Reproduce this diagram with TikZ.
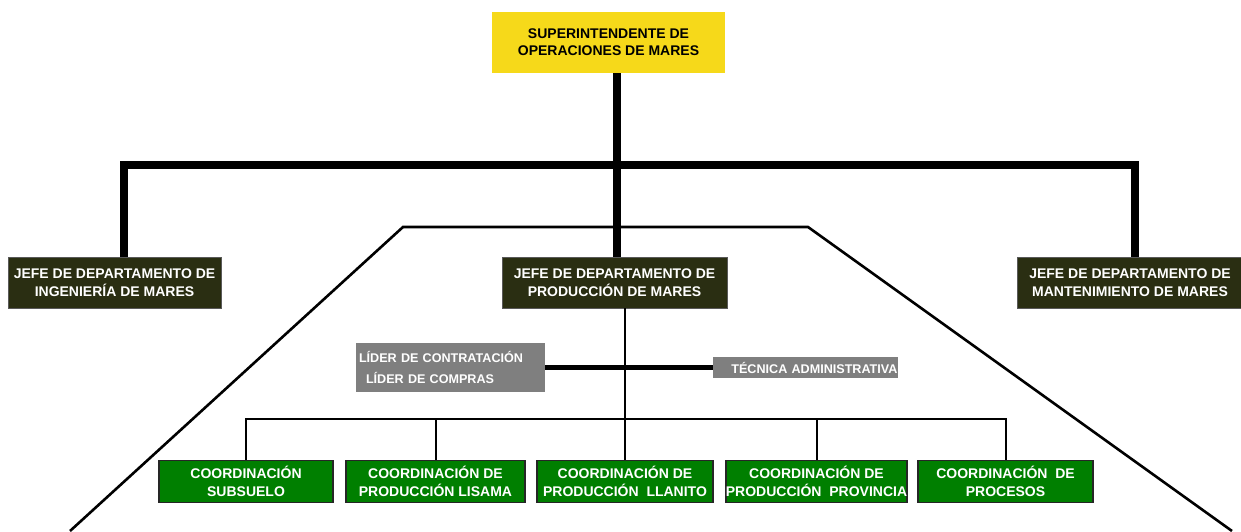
\documentclass[tikz,border=0pt]{standalone}
\usepackage{fontspec}
\setmainfont{Liberation Sans}
\begin{document}
\begin{tikzpicture}[x=1pt,y=-1pt,
  base/.style={font=\bfseries\fontsize{14}{17}\selectfont, align=center, inner sep=0pt},
  topbox/.style={base, fill=supyellow, minimum height=61pt},
  deptbox/.style={base, text=white, fill=deptolive, draw=gray!70!black, line width=0.6pt,
    minimum height=51pt, font=\bfseries\fontsize{14}{18}\selectfont},
  staffbox/.style={base, text=white, fill=staffgray, font=\bfseries\fontsize{12.6}{21}\selectfont},
  coordbox/.style={base, text=white, fill=coordgreen, draw=black!85, line width=1.6pt,
    minimum height=42pt, font=\bfseries\fontsize{14}{18}\selectfont},
  bus/.style={line width=7.5pt},
  thinlink/.style={line width=2pt},
  staffline/.style={line width=5.5pt},
  scope/.style={line width=2.6pt, line join=miter}
]
\definecolor{supyellow}{HTML}{F6D91A}
\definecolor{deptolive}{HTML}{2A2E12}
\definecolor{staffgray}{HTML}{7F7F7F}
\definecolor{coordgreen}{HTML}{007F00}

\useasboundingbox (0,0) rectangle (1241,531);

% area outline behind the production department
\draw[scope] (70,531) -- (403,227) -- (808,227) -- (1232,531);

% boxes
\node[topbox, minimum width=233pt] (sup) at (608.5,42.5) {SUPERINTENDENTE DE\\OPERACIONES DE MARES};

\node[deptbox, minimum width=213pt] (ing) at (114.5,282.5) {JEFE DE DEPARTAMENTO DE\\INGENIERÍA DE MARES};
\node[deptbox, minimum width=225pt] (prod) at (614.5,282.5) {JEFE DE DEPARTAMENTO DE\\PRODUCCIÓN DE MARES};
\node[deptbox, minimum width=226pt] (mant) at (1130,283) {JEFE DE DEPARTAMENTO DE\\MANTENIMIENTO DE MARES};

\node[staffbox, minimum width=189pt, minimum height=49pt, text width=183pt, align=left, inner xsep=3pt]
  (lider) at (450.5,367.5) {LÍDER DE CONTRATACIÓN\\\hspace*{7pt}LÍDER DE COMPRAS};
\node[staffbox, minimum width=185pt, minimum height=21pt, text width=184pt, align=right]
  (tec) at (805.5,367.5) {TÉCNICA ADMINISTRATIVA};

\node[coordbox, minimum width=174pt] (subs) at (246,481.5) {COORDINACIÓN\\SUBSUELO};
\node[coordbox, minimum width=179pt] (lis) at (435.5,481.5) {COORDINACIÓN DE\\PRODUCCIÓN LISAMA};
\node[coordbox, minimum width=176pt] (llan) at (625,481.5) {COORDINACIÓN DE\\PRODUCCIÓN\ \ LLANITO};
\node[coordbox, minimum width=179pt] (prov) at (816.5,481.5) {COORDINACIÓN DE\\PRODUCCIÓN\ \ PROVINCIA};
\node[coordbox, minimum width=175pt] (proc) at (1005.5,481.5) {COORDINACIÓN\ \ DE\\PROCESOS};

% reporting lines
\coordinate (busL) at (124,165);
\coordinate (busR) at (1135,165);
\coordinate (trunk) at (617,165);
\coordinate (lowbus) at (0,419);

\draw[bus] (ing.north -| busL) -- (busL) -- (busR) -- (mant.north -| busR);
\draw[bus] (sup.south -| trunk) -- (prod.north -| trunk);

\draw[thinlink] (prod.south -| llan.north) -- (llan.north);
\draw[staffline] (lider.east) -- (tec.west);

\draw[thinlink] (subs.north) -- (subs.north |- lowbus) -- (proc.north |- lowbus) -- (proc.north);
\draw[thinlink] (lis.north) -- (lis.north |- lowbus);
\draw[thinlink] (prov.north) -- (prov.north |- lowbus);
\end{tikzpicture}
\end{document}
